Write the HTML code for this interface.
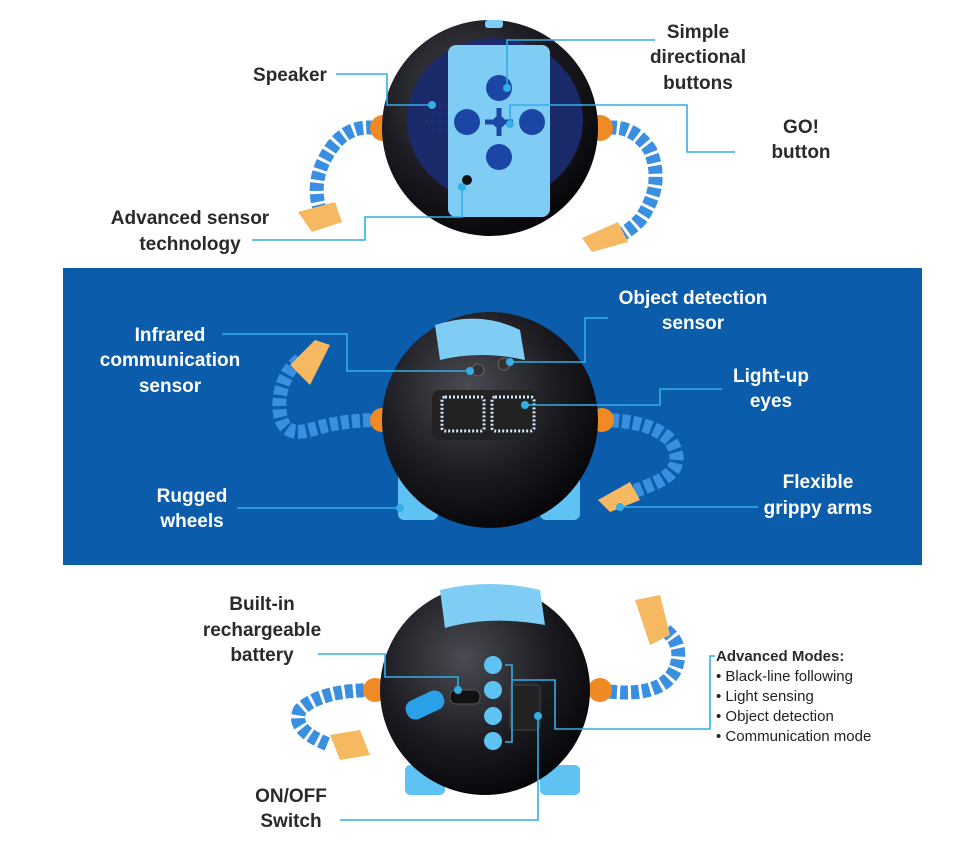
<!DOCTYPE html>
<html><head><meta charset="utf-8"><style>
html,body{margin:0;padding:0;background:#fff;}
body{width:971px;height:848px;overflow:hidden;position:relative;font-family:"Liberation Sans",sans-serif;}
svg{position:absolute;left:0;top:0;}
text{font-family:"Liberation Sans",sans-serif;font-weight:bold;font-size:19px;fill:#2a2a2a;text-anchor:middle;}
.w{fill:#fff;}
.l{stroke:#33aee6;stroke-width:1.6;fill:none;}
.d{fill:#33aee6;}
.m{font-size:15px;text-anchor:start;}
</style></head><body>
<svg width="971" height="848" viewBox="0 0 971 848">
<defs>
<radialGradient id="ball" cx="40%" cy="35%" r="70%"><stop offset="0" stop-color="#4a4a52"/><stop offset="0.6" stop-color="#1a1a20"/><stop offset="1" stop-color="#050508"/></radialGradient>
</defs>
<!-- blue band -->
<rect x="63" y="268" width="859" height="297" fill="#0b5cab"/>

<!-- ===== TOP ROBOT ===== -->
<g>
<path d="M385 130 Q350 120 330 150 Q310 180 320 210" stroke="#3a8fe0" stroke-width="14" fill="none" stroke-dasharray="8 3"/>
<path d="M598 130 Q630 120 650 150 Q665 185 640 220 Q625 235 610 240" stroke="#3a8fe0" stroke-width="14" fill="none" stroke-dasharray="8 3"/>
<circle cx="383" cy="128" r="13" fill="#f08a24"/>
<circle cx="600" cy="128" r="13" fill="#f08a24"/>
<polygon points="298,212 335,202 342,222 312,232" fill="#f6b860"/>
<polygon points="582,238 618,222 628,242 592,252" fill="#f6b860"/>
<circle cx="490" cy="128" r="108" fill="url(#ball)"/>
<ellipse cx="495" cy="120" rx="88" ry="82" fill="#1a2a6a"/>
<rect x="448" y="45" width="102" height="172" rx="8" fill="#7fcdf5"/>
<rect x="485" y="20" width="18" height="8" rx="3" fill="#7fcdf5"/>
<circle cx="499" cy="88" r="13" fill="#1c46a6"/>
<circle cx="467" cy="122" r="13" fill="#1c46a6"/>
<circle cx="532" cy="122" r="13" fill="#1c46a6"/>
<circle cx="499" cy="157" r="13" fill="#1c46a6"/>
<path d="M499 108 L499 136 M485 122 L513 122" stroke="#1c46a6" stroke-width="5"/>
<circle cx="499" cy="122" r="6" fill="#1c46a6"/>
<circle cx="467" cy="180" r="5" fill="#111"/>
<g fill="#1c2f80"><circle cx="440" cy="106" r="2"/><circle cx="440" cy="114" r="2"/><circle cx="440" cy="122" r="2"/><circle cx="433" cy="114" r="2"/><circle cx="433" cy="122" r="2"/><circle cx="426" cy="122" r="2"/><circle cx="440" cy="130" r="2"/></g>
</g>
<path class="l" d="M336 74 H387 V105 H432"/><circle class="d" cx="432" cy="105" r="4"/>
<path class="l" d="M655 40 H507 V88"/><circle class="d" cx="507" cy="88" r="4"/>
<path class="l" d="M735 152 H687 V105 H510 V124"/><circle class="d" cx="510" cy="124" r="4"/>
<path class="l" d="M252 240 H365 V217 H462 V187"/><circle class="d" cx="462" cy="187" r="4"/>
<text x="290" y="81">Speaker</text>
<text x="698" y="38">Simple</text>
<text x="698" y="63">directional</text>
<text x="698" y="89">buttons</text>
<text x="801" y="133">GO!</text>
<text x="801" y="158">button</text>
<text x="190" y="224">Advanced sensor</text>
<text x="190" y="250">technology</text>

<!-- ===== MIDDLE ROBOT ===== -->
<g>
<path d="M382 420 Q340 420 310 430 Q275 440 280 395 Q285 370 300 360" stroke="#3a8fe0" stroke-width="14" fill="none" stroke-dasharray="8 3"/>
<path d="M600 420 Q650 420 670 440 Q690 470 650 485 Q640 490 630 492" stroke="#3a8fe0" stroke-width="14" fill="none" stroke-dasharray="8 3"/>
<circle cx="382" cy="420" r="12" fill="#f08a24"/>
<circle cx="602" cy="420" r="12" fill="#f08a24"/>
<polygon points="290,365 315,340 330,345 310,385" fill="#f6b860"/>
<polygon points="598,500 630,482 640,500 610,512" fill="#f6b860"/>
<rect x="398" y="455" width="40" height="65" rx="6" fill="#5ec3f2"/>
<rect x="540" y="455" width="40" height="65" rx="6" fill="#5ec3f2"/>
<circle cx="490" cy="420" r="108" fill="url(#ball)"/>
<path d="M435 325 Q480 310 520 330 L525 360 Q480 350 440 360 Z" fill="#7fcdf5"/>
<rect x="432" y="390" width="108" height="50" rx="8" fill="#222"/>
<rect x="442" y="397" width="42" height="34" rx="3" fill="none" stroke="#cfe6ff" stroke-width="3" stroke-dasharray="2 2"/>
<rect x="492" y="397" width="42" height="34" rx="3" fill="none" stroke="#cfe6ff" stroke-width="3" stroke-dasharray="2 2"/>
<circle cx="478" cy="370" r="6" fill="#333" stroke="#666"/>
<circle cx="504" cy="364" r="6" fill="#333" stroke="#666"/>
</g>
<path class="l" d="M222 334 H347 V371 H470"/><circle class="d" cx="470" cy="371" r="4"/>
<path class="l" d="M608 318 H585 V362 H510"/><circle class="d" cx="510" cy="362" r="4"/>
<path class="l" d="M722 389 H660 V405 H525"/><circle class="d" cx="525" cy="405" r="4"/>
<path class="l" d="M237 508 H400"/><circle class="d" cx="400" cy="508" r="4"/>
<path class="l" d="M758 507 H620"/><circle class="d" cx="620" cy="507" r="4"/>
<text class="w" x="170" y="341">Infrared</text>
<text class="w" x="170" y="366">communication</text>
<text class="w" x="170" y="392">sensor</text>
<text class="w" x="693" y="304">Object detection</text>
<text class="w" x="693" y="329">sensor</text>
<text class="w" x="771" y="382">Light-up</text>
<text class="w" x="771" y="407">eyes</text>
<text class="w" x="192" y="502">Rugged</text>
<text class="w" x="192" y="527">wheels</text>
<text class="w" x="818" y="488">Flexible</text>
<text class="w" x="818" y="514">grippy arms</text>

<!-- ===== BOTTOM ROBOT ===== -->
<g>
<path d="M375 690 Q320 690 300 710 Q290 730 330 745" stroke="#3a8fe0" stroke-width="14" fill="none" stroke-dasharray="8 3"/>
<path d="M598 690 Q660 700 675 670 Q685 645 665 630" stroke="#3a8fe0" stroke-width="14" fill="none" stroke-dasharray="8 3"/>
<circle cx="375" cy="690" r="12" fill="#f08a24"/>
<circle cx="600" cy="690" r="12" fill="#f08a24"/>
<polygon points="330,735 360,730 370,755 340,760" fill="#f6b860"/>
<polygon points="635,600 660,595 670,635 650,645" fill="#f6b860"/>
<rect x="405" y="765" width="40" height="30" rx="5" fill="#5ec3f2"/>
<rect x="540" y="765" width="40" height="30" rx="5" fill="#5ec3f2"/>
<circle cx="485" cy="690" r="105" fill="url(#ball)"/>
<path d="M440 590 Q490 578 540 590 L545 625 Q490 615 445 628 Z" fill="#7fcdf5"/>
<rect x="405" y="695" width="40" height="20" rx="9" fill="#2aa0e8" transform="rotate(-25 425 705)"/>
<rect x="450" y="690" width="30" height="14" rx="6" fill="#111" stroke="#555"/>
<g fill="#5ec3f2"><circle cx="493" cy="665" r="9"/><circle cx="493" cy="690" r="9"/><circle cx="493" cy="716" r="9"/><circle cx="493" cy="741" r="9"/></g>
<rect x="510" y="685" width="30" height="45" rx="4" fill="#222" stroke="#444"/>
</g>
<path class="l" d="M318 654 H385 V677 H458 V690"/><circle class="d" cx="458" cy="690" r="4"/>
<path class="l" d="M340 820 H538 V716"/><circle class="d" cx="538" cy="716" r="4"/>
<path class="l" d="M715 656 H710 V729 H555 V680 H513"/>
<path class="l" d="M505 665 H512 V742 H505"/>
<text x="262" y="610">Built-in</text>
<text x="262" y="636">rechargeable</text>
<text x="262" y="661">battery</text>
<text x="291" y="802">ON/OFF</text>
<text x="291" y="827">Switch</text>
<text class="m" x="716" y="661" style="font-weight:900">Advanced Modes:</text>
<text class="m" x="716" y="681" style="font-weight:normal;fill:#222">• Black-line following</text>
<text class="m" x="716" y="701" style="font-weight:normal;fill:#222">• Light sensing</text>
<text class="m" x="716" y="721" style="font-weight:normal;fill:#222">• Object detection</text>
<text class="m" x="716" y="741" style="font-weight:normal;fill:#222">• Communication mode</text>
</svg>
</body></html>
